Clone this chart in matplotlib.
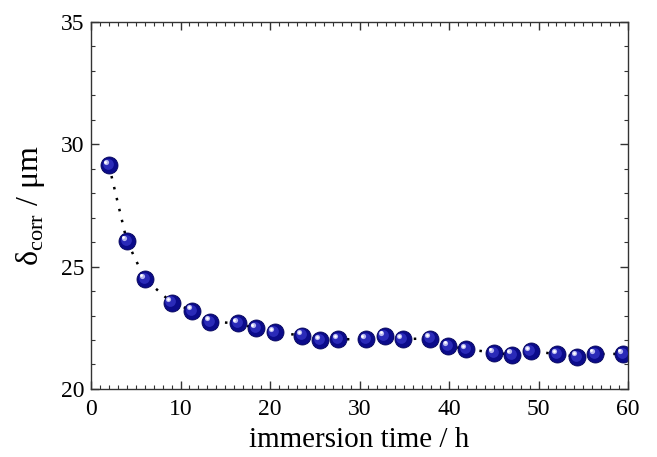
import numpy as np
import matplotlib
matplotlib.use("Agg")
import matplotlib.pyplot as plt
from matplotlib.ticker import MultipleLocator
from matplotlib.transforms import offset_copy

# ------------------ Data ------------------
time_h = [2, 4, 6, 9, 11.3, 13.3, 16.4, 18.4, 20.5, 23.6, 25.6, 27.6, 30.7,
          32.8, 34.8, 37.9, 39.9, 41.9, 45, 47, 49.1, 52.1, 54.3, 56.3, 59.4]
delta_corr = [29.15, 26.05, 24.5, 23.53, 23.2, 22.75, 22.68, 22.48, 22.32,
              22.18, 22.0, 22.03, 22.03, 22.17, 22.04, 22.06, 21.76, 21.63,
              21.48, 21.40, 21.55, 21.42, 21.32, 21.43, 21.43]

plt.rcParams["font.family"] = ["Liberation Serif", "DejaVu Serif"]
plt.rcParams["mathtext.fontset"] = "custom"
plt.rcParams["mathtext.rm"] = "Liberation Serif"

# ------------------ Plot ------------------
fig = plt.figure(figsize=(6.57, 4.57), dpi=100)
ax = fig.add_axes([0.1385, 0.149, 0.8175, 0.803])

ax.plot(time_h, delta_corr, linestyle=(0, (1, 3.5)), color="black",
        linewidth=1.8, zorder=1)

# shaded sphere markers
ax.scatter(time_h, delta_corr, s=150, color="#0b0b8a", edgecolor="#06065a",
           linewidth=0.6, zorder=2)
ax.scatter(time_h, delta_corr, s=60, color="#2a2ab8", linewidth=0, zorder=3,
           transform=offset_copy(ax.transData, fig=fig, x=-0.8, y=0.8, units="points"))
ax.scatter(time_h, delta_corr, s=14, color="#b8b8f0", linewidth=0, zorder=4,
           transform=offset_copy(ax.transData, fig=fig, x=-2.3, y=2.3, units="points"))
ax.scatter(time_h, delta_corr, s=4, color="white", linewidth=0, zorder=5,
           transform=offset_copy(ax.transData, fig=fig, x=-2.5, y=2.5, units="points"))

ax.set_xlim(0, 60)
ax.set_ylim(20, 35)
ax.xaxis.set_major_locator(MultipleLocator(10))
ax.xaxis.set_minor_locator(MultipleLocator(1))
ax.yaxis.set_major_locator(MultipleLocator(5))
ax.yaxis.set_minor_locator(MultipleLocator(1))
ax.tick_params(which="both", direction="in", top=True, right=True,
               color="#333333", labelsize=17)
ax.tick_params(which="major", length=6, width=1)
ax.tick_params(which="minor", length=3, width=0.8)
ax.tick_params(axis="x", which="major", pad=7)
ax.tick_params(axis="y", which="major", pad=5)
for sp in ax.spines.values():
    sp.set_color("#333333")
    sp.set_linewidth(1)

ax.set_xlabel("immersion time / h", fontsize=21, labelpad=5)
ax.set_ylabel("\u03b4$_{\\mathrm{corr}}$ / \u03bcm", fontsize=23, labelpad=10)

fig.savefig("out.png", dpi=100)
